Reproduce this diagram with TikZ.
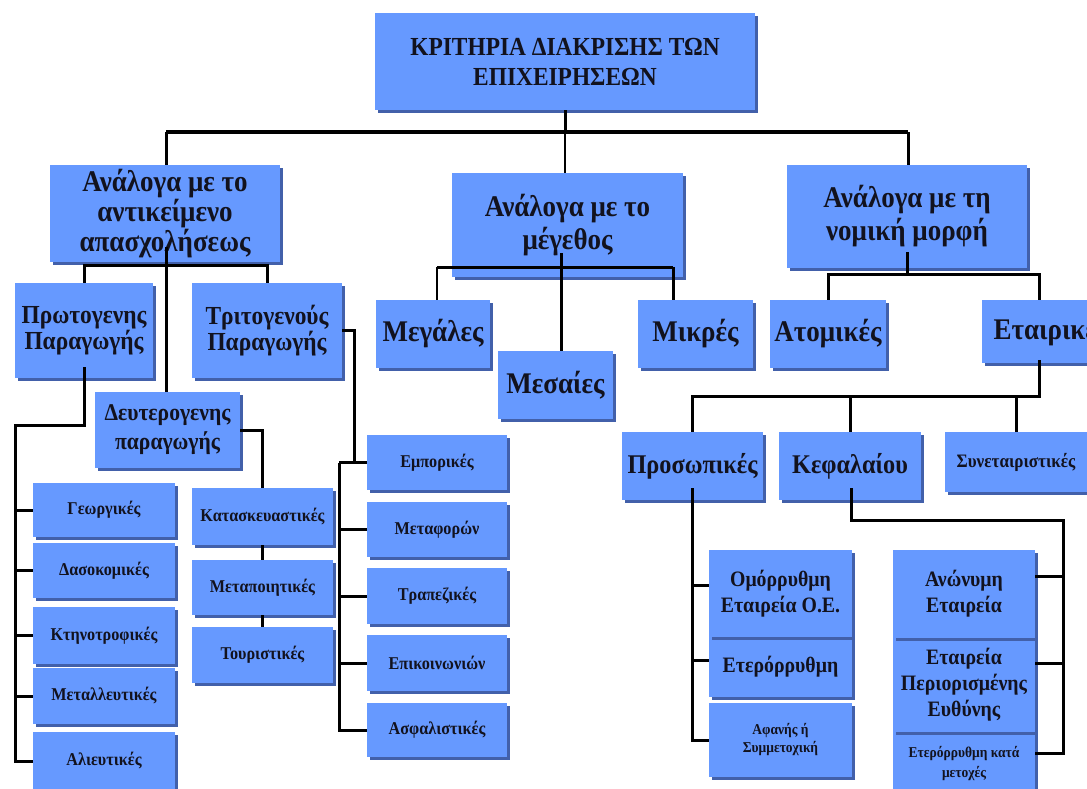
\documentclass[tikz,border=0pt]{standalone}
\usepackage{fontspec}
\newfontfamily\gk[FakeStretch=0.9]{Liberation Serif}
\usetikzlibrary{shadows}
\definecolor{boxblue}{RGB}{102,153,255}
\definecolor{boxshade}{RGB}{66,96,170}
\definecolor{ink}{RGB}{18,18,30}

\tikzset{
  box/.style={fill=boxblue, inner sep=0pt, align=center, text=ink,
    drop shadow={shadow xshift=2.5pt, shadow yshift=-2.5pt, fill=boxshade, opacity=1}},
  wire/.style={draw=black, line width=3pt, line join=miter},
  buswire/.style={draw=black, line width=4pt, line join=miter},
  thinwire/.style={draw=black, line width=1.6pt},
}

% \orgbox{name}{x1}{y1}{x2}{y2}{font size}{leading}{text}
\newcommand\orgbox[8]{%
  \node[box, minimum width={(#4-#2)*1pt}, minimum height={(#5-#3)*1pt},
        font={\gk\bfseries\fontsize{#6}{#7}\selectfont}]
    (#1) at ({(#2+#4)/2},{(#3+#5)/2}) {#8};}

\begin{document}
\begin{tikzpicture}[x=1pt,y=-1pt]
\useasboundingbox (0,0) rectangle (1087,788);
\clip (0,0) rectangle (1087,788);
\fill[white] (0,0) rectangle (1087,788);

% root
\orgbox{top}{375}{13}{755}{110}{26}{30}{ΚΡΙΤΗΡΙΑ ΔΙΑΚΡΙΣΗΣ ΤΩΝ\\ΕΠΙΧΕΙΡΗΣΕΩΝ}

% first level
\orgbox{obj}{50}{165}{280}{262}{30}{24}{Ανάλογα με το\\αντικείμενο\\απασχολήσεως}
\orgbox{size}{452}{173}{683}{277}{30}{33}{Ανάλογα με το\\μέγεθος}
\orgbox{legal}{787}{165}{1027}{268}{30}{33}{Ανάλογα με τη\\νομική μορφή}

% by size
\orgbox{large}{376}{300}{490}{368}{30}{33}{Μεγάλες}
\orgbox{medium}{498}{351}{613}{419}{30}{33}{Μεσαίες}
\orgbox{small}{638}{300}{753}{368}{30}{33}{Μικρές}

% by legal form
\orgbox{single}{770}{300}{886}{368}{30}{33}{Ατομικές}
\orgbox{corp}{982}{300}{1120}{363}{30}{33}{Εταιρικές}
\orgbox{pers}{622}{432}{763}{500}{27}{30}{Προσωπικές}
\orgbox{capit}{779}{432}{921}{500}{27}{30}{Κεφαλαίου}
\orgbox{coop}{945}{432}{1087}{492}{19}{22}{Συνεταιριστικές}

\orgbox{silent}{709}{703}{852}{777}{15}{18}{Αφανής ή\\Συμμετοχική}
\orgbox{limp}{709}{637}{852}{697}{22}{26}{Ετερόρρυθμη}
\orgbox{genp}{709}{550}{852}{637}{22}{26}{Ομόρρυθμη\\Εταιρεία Ο.Ε.}

\orgbox{lpshares}{893}{732}{1035}{795}{15}{20}{Ετερόρρυθμη κατά\\μετοχές}
\orgbox{ltd}{893}{638}{1035}{732}{22}{26}{Εταιρεία\\Περιορισμένης\\Ευθύνης}
\orgbox{sa}{893}{550}{1035}{638}{22}{26}{Ανώνυμη\\Εταιρεία}

% by activity
\orgbox{prim}{15}{283}{153}{378}{26}{26}{Πρωτογενης\\Παραγωγής}
\orgbox{tert}{192}{283}{342}{378}{26}{26}{Τριτογενούς\\Παραγωγής}
\orgbox{sec}{95}{392}{240}{468}{24}{29}{Δευτερογενης\\παραγωγής}

\orgbox{fish}{33}{732}{175}{790}{18}{21}{Αλιευτικές}
\orgbox{mine}{33}{668}{175}{724}{18}{21}{Μεταλλευτικές}
\orgbox{stock}{33}{607}{175}{664}{18}{21}{Κτηνοτροφικές}
\orgbox{forest}{33}{543}{175}{598}{18}{21}{Δασοκομικές}
\orgbox{agri}{33}{483}{175}{537}{18}{21}{Γεωργικές}

\orgbox{tour}{192}{627}{333}{683}{18}{21}{Τουριστικές}
\orgbox{proc}{192}{560}{333}{615}{18}{21}{Μεταποιητικές}
\orgbox{constr}{192}{488}{333}{545}{18}{21}{Κατασκευαστικές}

\orgbox{insur}{367}{703}{507}{757}{18}{21}{Ασφαλιστικές}
\orgbox{comm}{367}{635}{507}{691}{18}{21}{Επικοινωνιών}
\orgbox{bank}{367}{568}{507}{624}{18}{21}{Τραπεζικές}
\orgbox{transp}{367}{502}{507}{557}{18}{21}{Μεταφορών}
\orgbox{trade}{367}{435}{507}{490}{18}{21}{Εμπορικές}

% ---- connectors ----
\coordinate (busL) at (166,132);
\coordinate (busR) at (908,132);
\draw[wire] (top.south) -- (top.south |- busL);
\draw[buswire] (busL) -- (busR);
\draw[wire] (busL) -- (busL |- obj.north);
\draw[wire] (busR) -- (busR |- legal.north);
\draw[thinwire] (top.south |- busL) -- (top.south |- size.north);

% size branch
\coordinate (m0) at (561,253);
\coordinate (m1) at (437,267);
\coordinate (m2) at (673,267);
\draw[wire] (m0) -- (m0 |- medium.north);
\draw[wire] (m1) -- (m2);
\draw[thinwire] (m1) -- (m1 |- large.north);
\draw[wire] (m2) -- (m2 |- small.north);

% legal-form branch
\coordinate (r0) at (907,252);
\coordinate (r1) at (907,274);
\coordinate (r2) at (1039,274);
\draw[wire] (r0) -- (r1);
\draw[wire] (single.north) |- (r2) -- (r2 |- corp.north);

\coordinate (e0) at (1039,360);
\coordinate (e1) at (692,396);
\draw[wire] (e0) |- (e1) -- (e1 |- pers.north);
\draw[wire] (capit.north |- e1) -- (capit.north);
\draw[wire] (coop.north |- e1) -- (coop.north);

\coordinate (q0) at (692,488);
\coordinate (q1) at (692,585);
\coordinate (q2) at (692,660);
\draw[wire] (q0) |- (silent.west);
\draw[wire] (q1) -- (q1 -| genp.west);
\draw[wire] (q2) -- (q2 -| limp.west);

\coordinate (k0) at (851,488);
\coordinate (k1) at (1063,520);
\coordinate (k2) at (1063,576);
\coordinate (k3) at (1063,663);
\coordinate (k4) at (1063,753);
\draw[wire] (k0) |- (k1) -- (k4) -- (k4 -| lpshares.east);
\draw[wire] (k2) -- (k2 -| sa.east);
\draw[wire] (k3) -- (k3 -| ltd.east);

% activity branch
\coordinate (a0) at (166,247);
\coordinate (a1) at (166,265);
\draw[wire] (a0) -- (a0 |- sec.north);
\draw[wire] (prim.north) |- (a1) -| (tert.north);

\coordinate (p0) at (84,367);
\coordinate (p1) at (15,425);
\draw[wire] (p0) |- (p1) |- (fish.west);
\draw[wire] (p1 |- agri.west) -- (agri.west);
\draw[wire] (p1 |- forest.west) -- (forest.west);
\draw[wire] (p1 |- stock.west) -- (stock.west);
\draw[wire] (p1 |- mine.west) -- (mine.west);

\draw[wire] (sec.east) -| (constr.north);
\draw[wire] (constr.south) -- (proc.north);
\draw[wire] (proc.south) -- (tour.north);

\coordinate (t1) at (354,0);
\coordinate (t2) at (339,0);
\draw[wire] (tert.east) -| (trade.west -| t1);
\draw[wire] (trade.west -| t2) -- (trade.west);
\draw[wire] (trade.west -| t2) |- (insur.west);
\draw[wire] (transp.west -| t2) -- (transp.west);
\draw[wire] (bank.west -| t2) -- (bank.west);
\draw[wire] (comm.west -| t2) -- (comm.west);
\end{tikzpicture}
\end{document}
